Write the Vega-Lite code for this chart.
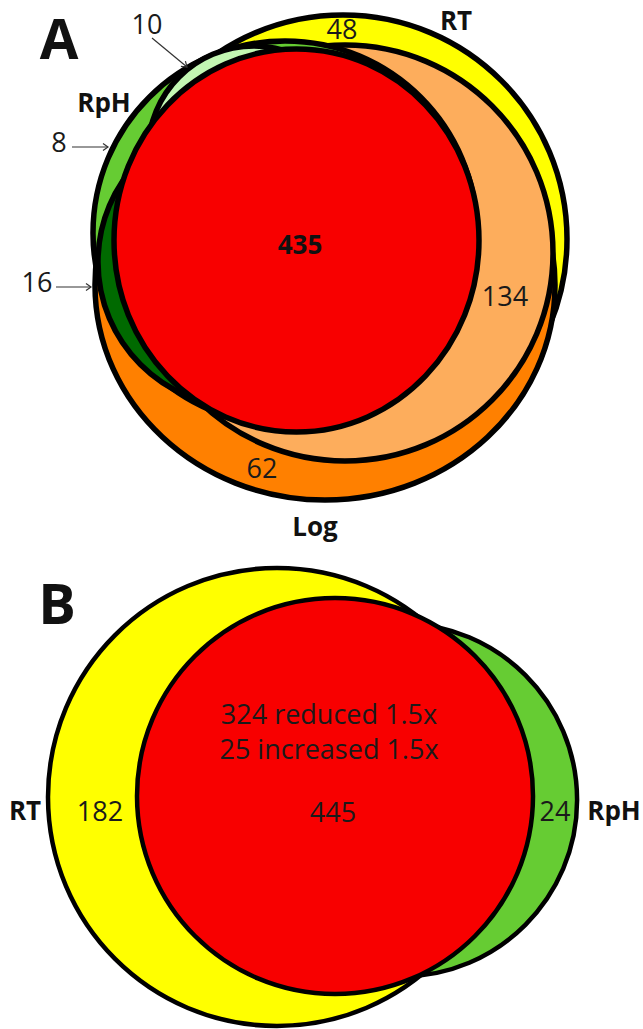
{
  "$schema": "https://vega.github.io/schema/vega-lite/v6.json",
  "width": 643,
  "height": 1029,
  "autosize": {"type": "none"},
  "padding": 0,
  "background": "white",
  "config": {"view": {"stroke": null}},
  "datasets": {
    "shapes": [
      {"panel": "A", "set": "RT (A)", "x": 343, "y": 239, "ry": 224},
      {"panel": "A", "set": "Log (A)", "x": 325, "y": 285, "ry": 215},
      {"panel": "A", "set": "RT∩Log (A)", "x": 345, "y": 253, "ry": 208},
      {"panel": "A", "set": "RpH (A)", "x": 285, "y": 233, "ry": 192},
      {"panel": "A", "set": "RpH∩RT (A)", "x": 254, "y": 152, "ry": 106},
      {"panel": "A", "set": "RpH∩Log (A)", "x": 243, "y": 262, "ry": 145},
      {"panel": "A", "set": "RT∩Log∩RpH (A)", "x": 296.5, "y": 240.5, "ry": 191.5},
      {"panel": "B", "set": "RT (B)", "x": 277, "y": 797, "ry": 229},
      {"panel": "B", "set": "RpH (B)", "x": 400.5, "y": 800, "ry": 176.6},
      {"panel": "B", "set": "RT∩RpH (B)", "x": 335, "y": 796, "ry": 198}
    ],
    "numbers": [
      {"text": "10", "x": 147, "y": 26},
      {"text": "48", "x": 342, "y": 31},
      {"text": "8", "x": 59, "y": 144},
      {"text": "16", "x": 37, "y": 284},
      {"text": "134", "x": 505, "y": 298},
      {"text": "62", "x": 262, "y": 470},
      {"text": "324 reduced 1.5x", "x": 329, "y": 716},
      {"text": "25 increased 1.5x", "x": 329, "y": 751},
      {"text": "445", "x": 333, "y": 814},
      {"text": "182", "x": 100, "y": 813},
      {"text": "24", "x": 555, "y": 813}
    ],
    "names": [
      {"text": "RT", "x": 456, "y": 22},
      {"text": "RpH", "x": 104, "y": 104},
      {"text": "435", "x": 300, "y": 246},
      {"text": "Log", "x": 315, "y": 528},
      {"text": "RT", "x": 25, "y": 812},
      {"text": "RpH", "x": 614, "y": 812}
    ],
    "panels": [
      {"text": "A", "x": 59, "y": 42},
      {"text": "B", "x": 57, "y": 607}
    ],
    "arrows": [
      {"dir": "d", "x": 152, "y": 38, "x2": 187, "y2": 67},
      {"dir": "h", "x": 72, "y": 147, "x2": 108, "y2": 147},
      {"dir": "h", "x": 56, "y": 287, "x2": 91, "y2": 287}
    ]
  },
  "encoding": {
    "x": {"field": "x", "type": "quantitative", "scale": {"domain": [0, 643], "nice": false, "zero": false}, "axis": null},
    "y": {"field": "y", "type": "quantitative", "scale": {"domain": [0, 1029], "nice": false, "zero": false, "reverse": true}, "axis": null}
  },
  "layer": [
    {
      "data": {"name": "shapes"},
      "transform": [{"filter": "datum.panel == 'A'"}],
      "mark": {"type": "point", "filled": true, "opacity": 1, "fillOpacity": 1, "stroke": "black", "strokeWidth": 5.5, "strokeOpacity": 1},
      "encoding": {
        "fill": {
          "field": "set", "type": "nominal", "legend": null,
          "scale": {
            "domain": ["RT (A)", "Log (A)", "RT∩Log (A)", "RpH (A)", "RpH∩RT (A)", "RpH∩Log (A)", "RT∩Log∩RpH (A)", "RT (B)", "RpH (B)", "RT∩RpH (B)"],
            "range": ["#ffff00", "#ff8000", "#fdad5c", "#66cc33", "#c3f7b3", "#006a00", "#f80000", "#ffff00", "#66cc33", "#f80000"]
          }
        },
        "shape": {
          "field": "set", "type": "nominal", "legend": null,
          "scale": {
            "domain": ["RT (A)", "Log (A)", "RT∩Log (A)", "RpH (A)", "RpH∩RT (A)", "RpH∩Log (A)", "RT∩Log∩RpH (A)", "RT (B)", "RpH (B)", "RT∩RpH (B)"],
            "range": [
              "M-1,0C-1,-0.5523,-0.5523,-1,0,-1C0.5523,-1,1,-0.5523,1,0C1,0.5523,0.5523,1,0,1C-0.5523,1,-1,0.5523,-1,0Z",
              "M-1.0698,0C-1.0698,-0.5523,-0.5908,-1,0,-1C0.5908,-1,1.0698,-0.5523,1.0698,0C1.0698,0.5523,0.5908,1,0,1C-0.5908,1,-1.0698,0.5523,-1.0698,0Z",
              "M-1,0C-1,-0.5523,-0.5523,-1,0,-1C0.5523,-1,1,-0.5523,1,0C1,0.5523,0.5523,1,0,1C-0.5523,1,-1,0.5523,-1,0Z",
              "M-1,0C-1,-0.5523,-0.5523,-1,0,-1C0.5523,-1,1,-0.5523,1,0C1,0.5523,0.5523,1,0,1C-0.5523,1,-1,0.5523,-1,0Z",
              "M-1,0C-1,-0.5523,-0.5523,-1,0,-1C0.5523,-1,1,-0.5523,1,0C1,0.5523,0.5523,1,0,1C-0.5523,1,-1,0.5523,-1,0Z",
              "M-1,0C-1,-0.5523,-0.5523,-1,0,-1C0.5523,-1,1,-0.5523,1,0C1,0.5523,0.5523,1,0,1C-0.5523,1,-1,0.5523,-1,0Z",
              "M-0.953,0C-0.953,-0.5523,-0.5263,-1,0,-1C0.5263,-1,0.953,-0.5523,0.953,0C0.953,0.5523,0.5263,1,0,1C-0.5263,1,-0.953,0.5523,-0.953,0Z",
              "M-1,0C-1,-0.5523,-0.5523,-1,0,-1C0.5523,-1,1,-0.5523,1,0C1,0.5523,0.5523,1,0,1C-0.5523,1,-1,0.5523,-1,0Z",
              "M-1,0C-1,-0.5523,-0.5523,-1,0,-1C0.5523,-1,1,-0.5523,1,0C1,0.5523,0.5523,1,0,1C-0.5523,1,-1,0.5523,-1,0Z",
              "M-1,0C-1,-0.5523,-0.5523,-1,0,-1C0.5523,-1,1,-0.5523,1,0C1,0.5523,0.5523,1,0,1C-0.5523,1,-1,0.5523,-1,0Z"
            ]
          }
        },
        "size": {
          "field": "ry", "type": "quantitative", "legend": null,
          "scale": {"type": "pow", "exponent": 2, "domain": [0, 250], "range": [0, 250000], "zero": true}
        }
      }
    },
    {
      "data": {"name": "shapes"},
      "transform": [{"filter": "datum.panel == 'B'"}],
      "mark": {"type": "point", "filled": true, "opacity": 1, "fillOpacity": 1, "stroke": "black", "strokeWidth": 4.5, "strokeOpacity": 1},
      "encoding": {
        "fill": {"field": "set", "type": "nominal", "legend": null},
        "shape": {"field": "set", "type": "nominal", "legend": null},
        "size": {"field": "ry", "type": "quantitative", "legend": null}
      }
    },
    {
      "data": {"name": "arrows"},
      "mark": {"type": "rule", "color": "#333333", "strokeWidth": 1.2},
      "encoding": {
        "x2": {"field": "x2"},
        "y2": {"field": "y2"}
      }
    },
    {
      "data": {"name": "arrows"},
      "transform": [{"filter": "datum.dir == 'h'"}],
      "mark": {"type": "point", "shape": "M-1,-0.7L0,0L-1,0.7", "filled": false, "opacity": 1, "stroke": "#333333", "strokeWidth": 1.2, "size": 100, "angle": 0},
      "encoding": {
        "x": {"field": "x2", "type": "quantitative"},
        "y": {"field": "y2", "type": "quantitative"}
      }
    },
    {
      "data": {"name": "arrows"},
      "transform": [{"filter": "datum.dir == 'd'"}],
      "mark": {"type": "point", "shape": "M-1,-0.7L0,0L-1,0.7", "filled": false, "opacity": 1, "stroke": "#333333", "strokeWidth": 1.2, "size": 100, "angle": 40},
      "encoding": {
        "x": {"field": "x2", "type": "quantitative"},
        "y": {"field": "y2", "type": "quantitative"}
      }
    },
    {
      "data": {"name": "numbers"},
      "mark": {"type": "text", "font": "Open Sans", "fontSize": 27, "color": "#1a1a1a", "align": "center", "baseline": "middle"},
      "encoding": {"text": {"field": "text"}}
    },
    {
      "data": {"name": "names"},
      "mark": {"type": "text", "font": "Open Sans", "fontSize": 26, "fontWeight": "bold", "color": "#111111", "align": "center", "baseline": "middle"},
      "encoding": {"text": {"field": "text"}}
    },
    {
      "data": {"name": "panels"},
      "mark": {"type": "text", "font": "Open Sans", "fontSize": 56, "fontWeight": "bold", "color": "#111111", "align": "center", "baseline": "middle"},
      "encoding": {"text": {"field": "text"}}
    }
  ]
}
